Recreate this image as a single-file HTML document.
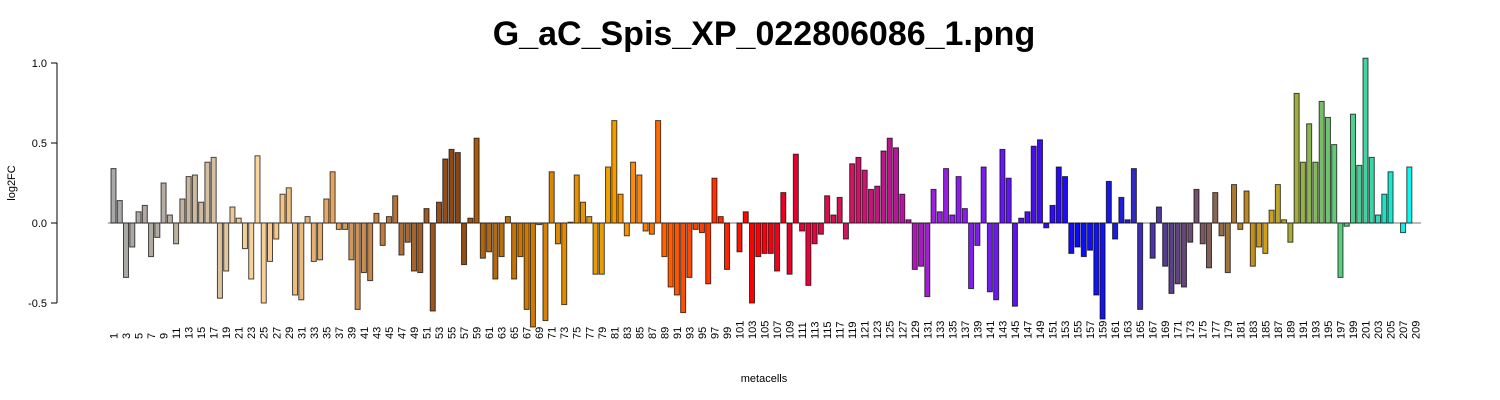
<!DOCTYPE html>
<html><head><meta charset="utf-8"><style>
html,body{margin:0;padding:0;background:#fff;}
svg{display:block;font-family:"Liberation Sans",sans-serif;}
</style></head><body>
<svg id="chart" width="1500" height="400" viewBox="0 0 1500 400" xmlns="http://www.w3.org/2000/svg">
<text x="764" y="45" text-anchor="middle" font-size="34" font-weight="bold">G_aC_Spis_XP_022806086_1.png</text>
<text x="0" y="0" transform="translate(15,183) rotate(-90)" text-anchor="middle" font-size="11">log2FC</text>
<text x="764" y="382" text-anchor="middle" font-size="11">metacells</text>
<g id="yaxis"></g>
<g id="bars"></g>
<g id="xlabels"></g>
</svg>
<script>
const categories = [];
for (let i = 1; i <= 209; i++) categories.push(i);
const values = [
0.34,0.14,-0.34,-0.15,0.07,0.11,-0.21,-0.09,0.25,0.05,
-0.13,0.15,0.29,0.30,0.13,0.38,0.41,-0.47,-0.30,0.10,
0.03,-0.16,-0.35,0.42,-0.50,-0.24,-0.10,0.18,0.22,-0.45,
-0.48,0.04,-0.24,-0.23,0.15,0.32,-0.04,-0.04,-0.23,-0.54,
-0.31,-0.36,0.06,-0.14,0.04,0.17,-0.20,-0.12,-0.30,-0.31,
0.09,-0.55,0.13,0.40,0.46,0.44,-0.26,0.03,0.53,-0.22,
-0.18,-0.35,-0.21,0.04,-0.35,-0.21,-0.54,-0.65,-0.01,-0.61,
0.32,-0.13,-0.51,0.005,0.30,0.13,0.04,-0.32,-0.32,0.35,
0.64,0.18,-0.08,0.38,0.30,-0.05,-0.07,0.64,-0.21,-0.40,
-0.45,-0.56,-0.34,-0.04,-0.06,-0.38,0.28,0.04,-0.29,0.0,
-0.18,0.07,-0.50,-0.21,-0.19,-0.19,-0.30,0.19,-0.32,0.43,
-0.05,-0.39,-0.13,-0.07,0.17,0.05,0.16,-0.10,0.37,0.41,
0.33,0.21,0.23,0.45,0.53,0.47,0.18,0.02,-0.29,-0.27,
-0.46,0.21,0.07,0.34,0.05,0.29,0.09,-0.41,-0.14,0.35,
-0.43,-0.48,0.46,0.28,-0.52,0.03,0.07,0.48,0.52,-0.03,
0.11,0.35,0.29,-0.19,-0.15,-0.21,-0.17,-0.45,-0.60,0.26,
-0.10,0.16,0.02,0.34,-0.54,0.0,-0.22,0.10,-0.27,-0.44,
-0.38,-0.40,-0.12,0.21,-0.13,-0.28,0.19,-0.08,-0.31,0.24,
-0.04,0.20,-0.27,-0.15,-0.19,0.08,0.24,0.02,-0.12,0.81,
0.38,0.62,0.38,0.76,0.66,0.49,-0.34,-0.02,0.68,0.36,
1.03,0.41,0.05,0.18,0.32,0.0,-0.06,0.35,0.0
];
const yTicks = [-0.5, 0.0, 0.5, 1.0];
const yTickLabels = ["-0.5","0.0","0.5","1.0"];

const NS = "http://www.w3.org/2000/svg";
function yScale(v){ return 223 - v*160; }
function xScale(i){ return 111 + i*6.26; }
const anchors = [
[1,[168,168,168]],[8,[178,170,160]],[17,[215,192,160]],[24,[250,212,156]],
[36,[225,165,100]],[50,[160,95,40]],[56,[139,69,19]],[60,[175,100,15]],
[70,[215,130,5]],[80,[240,160,0]],[84,[255,140,0]],[88,[255,105,0]],
[100,[255,30,0]],[103,[255,0,0]],[110,[230,0,45]],[118,[210,20,90]],
[128,[180,20,170]],[132,[160,30,225]],[140,[120,30,240]],[150,[60,10,240]],
[155,[10,10,255]],[162,[30,30,220]],[166,[70,50,170]],[172,[100,70,120]],
[176,[130,95,90]],[180,[170,120,50]],[185,[210,160,20]],[189,[170,170,60]],
[192,[140,180,80]],[196,[100,200,120]],[200,[70,210,150]],[204,[40,220,190]],[209,[0,255,255]]
];
function colorFor(n){
  for(let k=0;k<anchors.length-1;k++){
    const [a,ca]=anchors[k],[b,cb]=anchors[k+1];
    if(n>=a&&n<=b){const t=(n-a)/(b-a||1);
      return "rgb("+ca.map((c,j)=>Math.round(c+(cb[j]-c)*t)).join(",")+")";}
  }
  return "rgb(0,255,255)";
}
const yg=document.getElementById("yaxis");
const ax=document.createElementNS(NS,"line");


ax.setAttribute("x1",57);ax.setAttribute("x2",57);
ax.setAttribute("y1",yScale(1.0));ax.setAttribute("y2",yScale(-0.5));
ax.setAttribute("stroke","#000");yg.appendChild(ax);
yTicks.forEach((v,k)=>{
  const t=document.createElementNS(NS,"line");
  
  
  t.setAttribute("x1",51);t.setAttribute("x2",57);
  t.setAttribute("y1",yScale(v));t.setAttribute("y2",yScale(v));
  t.setAttribute("stroke","#000");yg.appendChild(t);
  const l=document.createElementNS(NS,"text");
  
  
  l.setAttribute("x",47);l.setAttribute("y",yScale(v)+4);
  l.setAttribute("text-anchor","end");l.setAttribute("font-size","11");
  l.textContent=yTickLabels[k];yg.appendChild(l);
});
const bg=document.getElementById("bars");
const zl=document.createElementNS(NS,"line");


zl.setAttribute("x1",108);zl.setAttribute("x2",1421);
zl.setAttribute("y1",yScale(0));zl.setAttribute("y2",yScale(0));
zl.setAttribute("stroke","#777");bg.appendChild(zl);
values.forEach((v,i)=>{
  const r=document.createElementNS(NS,"rect");
  
  
  const y0=yScale(0),y1=yScale(v);
  r.setAttribute("x",xScale(i));r.setAttribute("width",5);
  r.setAttribute("y",Math.min(y0,y1));r.setAttribute("height",Math.abs(y1-y0));
  r.setAttribute("fill",colorFor(categories[i]));
  r.setAttribute("stroke","rgba(0,0,0,0.7)");r.setAttribute("stroke-width","1");
  bg.appendChild(r);
});
const xg=document.getElementById("xlabels");
categories.forEach((c,i)=>{
  if(c%2===0) return;
  const l=document.createElementNS(NS,"text");
  
  
  const x=xScale(i)+2.5+4;
  l.setAttribute("transform","translate("+x+",339) rotate(-90)");
  l.setAttribute("font-size","11");
  l.textContent=c;xg.appendChild(l);
});
</script>
</body></html>
